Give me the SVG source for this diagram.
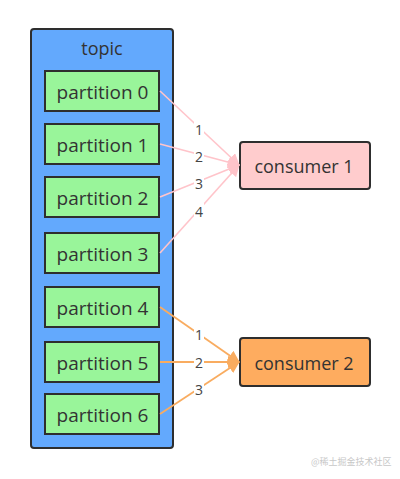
<svg xmlns="http://www.w3.org/2000/svg" width="400" height="479" viewBox="0 0 400 479">
<defs>
<style>
.box{stroke:#2e2e2e;stroke-width:2}
.topic{fill:#63a9fd}
.part{fill:#99f59a}
.c1{fill:#ffcccd}
.c2{fill:#feac5f}
.t{font-family:"Open Sans","Noto Sans",sans-serif;font-size:18px;fill:#333;text-anchor:middle;dominant-baseline:central}
.pt{font-size:19px}
.pink{stroke:#ffc4ca;stroke-width:1.6;fill:none}
.orng{stroke:#f9ac60;stroke-width:1.8;fill:none}
.lbl{font-family:"Open Sans","Noto Sans",sans-serif;font-size:14px;fill:#444;text-anchor:middle;dominant-baseline:central}
.wm{font-family:"Noto Sans CJK SC","Noto Sans",sans-serif;font-size:9px;fill:#c8c8c8}
</style>
<marker id="ap" viewBox="0 0 12 12" refX="11" refY="6" markerWidth="12" markerHeight="12" markerUnits="userSpaceOnUse" orient="auto">
<path d="M0,0 L12,6 L0,12 Z" fill="#ffc4ca"/>
</marker>
<marker id="ao" viewBox="0 0 12 12" refX="11" refY="6" markerWidth="12" markerHeight="12" markerUnits="userSpaceOnUse" orient="auto">
<path d="M0,0 L12,6 L0,12 Z" fill="#f9ac60"/>
</marker>
</defs>
<rect width="400" height="479" fill="#ffffff"/>
<g id="topic">
<rect class="box topic" x="31" y="29" width="142" height="419" rx="3"/>
<text class="t" x="102" y="48">topic</text>
</g>
<g id="partition0"><rect class="box part" x="45" y="71" width="114" height="40"/><text class="t pt" x="102.5" y="92">partition 0</text></g>
<g id="partition1"><rect class="box part" x="45" y="124" width="114" height="40"/><text class="t pt" x="102.5" y="145">partition 1</text></g>
<g id="partition2"><rect class="box part" x="45" y="177" width="114" height="40"/><text class="t pt" x="102.5" y="198">partition 2</text></g>
<g id="partition3"><rect class="box part" x="45" y="233" width="114" height="40"/><text class="t pt" x="102.5" y="254">partition 3</text></g>
<g id="partition4"><rect class="box part" x="45" y="287" width="114" height="40"/><text class="t pt" x="102.5" y="308">partition 4</text></g>
<g id="partition5"><rect class="box part" x="45" y="342" width="114" height="40"/><text class="t pt" x="102.5" y="363">partition 5</text></g>
<g id="partition6"><rect class="box part" x="45" y="394" width="114" height="40"/><text class="t pt" x="102.5" y="415">partition 6</text></g>
<g id="consumer1"><rect class="box c1" x="240" y="142" width="130" height="47" rx="3"/><text class="t" x="304" y="166">consumer 1</text></g>
<g id="consumer2"><rect class="box c2" x="240" y="338" width="130" height="48" rx="3"/><text class="t" x="304" y="363">consumer 2</text></g>
<g id="connectors">
<line class="pink" x1="160" y1="91" x2="239" y2="165" marker-end="url(#ap)"/>
<line class="pink" x1="160" y1="144" x2="239" y2="165" marker-end="url(#ap)"/>
<line class="pink" x1="160" y1="197" x2="239" y2="165" marker-end="url(#ap)"/>
<line class="pink" x1="160" y1="253" x2="239" y2="165" marker-end="url(#ap)"/>
<line class="orng" x1="160" y1="307" x2="239" y2="362" marker-end="url(#ao)"/>
<line class="orng" x1="160" y1="362" x2="239" y2="362" marker-end="url(#ao)"/>
<line class="orng" x1="160" y1="414" x2="239" y2="362" marker-end="url(#ao)"/>
<g>
<rect x="194" y="121" width="10" height="15" fill="#fff"/><text class="lbl" x="199" y="129">1</text>
<rect x="194" y="148" width="10" height="15" fill="#fff"/><text class="lbl" x="199" y="156">2</text>
<rect x="194" y="175" width="10" height="15" fill="#fff"/><text class="lbl" x="199" y="183">3</text>
<rect x="194" y="203" width="10" height="15" fill="#fff"/><text class="lbl" x="199" y="211">4</text>
<rect x="194" y="326" width="10" height="15" fill="#fff"/><text class="lbl" x="199" y="334">1</text>
<rect x="194" y="354" width="10" height="15" fill="#fff"/><text class="lbl" x="199" y="362">2</text>
<rect x="194" y="381" width="10" height="15" fill="#fff"/><text class="lbl" x="199" y="389">3</text>
</g>
</g>
<text class="wm" x="311" y="465">@稀土掘金技术社区</text>
</svg>
